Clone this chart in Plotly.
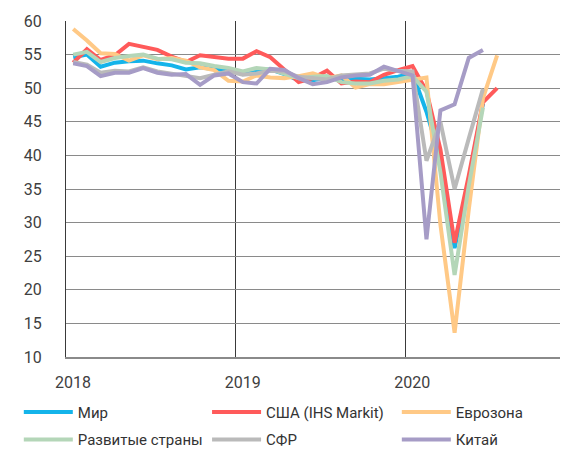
import plotly.graph_objects as go

months = [f"{y}-{m:02d}-01" for y in (2018, 2019, 2020) for m in range(1, 13)][:31]

world = [54.6, 55.0, 53.2, 53.8, 54.0, 54.1, 53.7, 53.4, 52.8, 53.1, 52.8, 52.7,
         52.1, 52.6, 52.8, 52.1, 51.2, 51.2, 51.6, 51.3, 51.4, 51.3, 51.5, 51.7,
         52.2, 46.5, 39.4, 26.2, 36.3, 47.7, None]
usa = [53.8, 55.8, 54.2, 54.9, 56.6, 56.2, 55.7, 54.7, 53.9, 54.9, 54.7, 54.4,
       54.4, 55.5, 54.6, 52.8, 50.9, 51.5, 52.6, 50.7, 51.0, 50.9, 52.0, 52.7,
       53.3, 49.6, 40.9, 27.0, 37.0, 47.9, 50.0]
eurozone = [58.8, 57.1, 55.2, 55.1, 54.1, 54.9, 54.3, 54.5, 54.1, 53.1, 52.7, 51.1,
            51.0, 51.9, 51.6, 51.5, 51.8, 52.2, 51.5, 51.9, 50.1, 50.6, 50.6, 50.9,
            51.3, 51.6, 29.7, 13.6, 31.9, 48.5, 54.9]
developed = [55.0, 55.4, 53.9, 54.5, 54.8, 55.0, 54.4, 54.3, 53.8, 53.7, 53.3, 53.0,
             52.5, 53.0, 52.8, 52.2, 51.5, 51.7, 51.8, 50.9, 50.7, 50.7, 51.1, 51.3,
             51.8, 49.5, 37.5, 22.2, 35.5, 47.1, None]
emerging = [53.9, 53.5, 52.3, 52.6, 52.5, 53.1, 52.5, 52.2, 51.9, 51.5, 52.0, 52.5,
            52.0, 52.2, 52.6, 52.5, 51.7, 51.5, 51.3, 51.9, 52.1, 52.2, 52.9, 52.6,
            52.5, 39.2, 45.0, 35.0, 42.5, 49.9, None]
china = [53.7, 53.3, 51.8, 52.3, 52.3, 53.0, 52.3, 52.0, 52.1, 50.5, 51.9, 52.2,
         50.9, 50.7, 52.9, 52.7, 51.5, 50.6, 50.9, 51.6, 51.9, 52.0, 53.2, 52.6,
         51.9, 27.5, 46.7, 47.6, 54.5, 55.7, None]

# (name, values, colour, legend column)
series = [
    ("Мир", world, "#14B4EA", "legend"),
    ("США (IHS Markit)", usa, "#FF5A5A", "legend2"),
    ("Еврозона", eurozone, "#FFC986", "legend3"),
    ("Развитые страны", developed, "#B4D6B8", "legend"),
    ("СФР", emerging, "#BABABA", "legend2"),
    ("Китай", china, "#A69CC6", "legend3"),
]

year_ticks = ["2018-01-01", "2019-01-01", "2020-01-01"]
year_labels = ["2018", "2019", "2020"]

fig = go.Figure()
for i, (name, vals, color, leg) in enumerate(series):
    fig.add_trace(go.Scatter(
        x=months, y=vals, name=name, mode="lines",
        xperiod="M1", xperiodalignment="middle",
        line=dict(color=color, width=4), connectgaps=False,
        legend=leg, legendgroup=f"g{i}",
    ))

leg_font = dict(family="Roboto", size=15, color="#333333")
def legend_at(x):
    return dict(
        orientation="v", x=x, xanchor="left", y=-0.115, yanchor="top",
        font=leg_font, itemwidth=49, tracegroupgap=5,
        bgcolor="rgba(0,0,0,0)",
    )

# page body has an 8px default margin, so the figure is a bit smaller
fig.update_layout(
    width=560, height=442,
    margin=dict(l=58, r=0, t=12.5, b=92.5, autoexpand=False),
    paper_bgcolor="white", plot_bgcolor="white",
    font=dict(family="Roboto", size=16, color="#404040"),
    showlegend=True,
    legend=legend_at(-0.094),
    legend2=legend_at(0.281),
    legend3=legend_at(0.659),
)
fig.update_xaxes(
    type="date", range=["2018-01-01", "2020-12-16"],
    tickmode="array", tickvals=year_ticks, ticktext=year_labels,
    ticklabelshift=7,
    ticks="outside", ticklen=10, tickcolor="rgba(0,0,0,0)",
    showgrid=True, gridcolor="#3a3a3a", gridwidth=1,
    showline=True, linecolor="#8a8a8a", linewidth=1.5,
    zeroline=False,
)
fig.update_yaxes(
    range=[10, 60], dtick=5, tick0=10,
    ticks="outside", ticklen=20, tickcolor="rgba(0,0,0,0)",
    showgrid=True, gridcolor="#8a8a8a", gridwidth=1.3,
    showline=True, linecolor="#3a3a3a", linewidth=1,
    zeroline=False,
)

fig.write_html("out.html")
